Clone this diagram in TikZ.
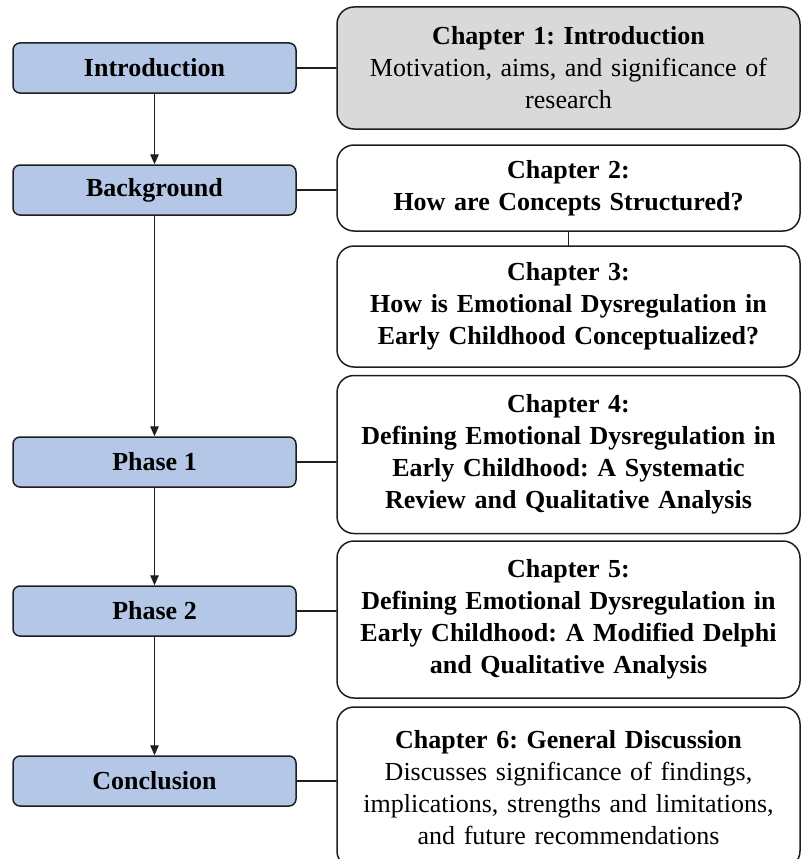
\documentclass[tikz,border=0pt]{standalone}
\usepackage{fontspec}
\setmainfont{Liberation Serif}
\usepackage{xcolor}
\usepackage{tikz}
\usetikzlibrary{arrows.meta,calc}
\definecolor{ColPhase}{RGB}{180,199,231}
\definecolor{ColIntro}{RGB}{217,217,217}
\definecolor{ColEdge}{RGB}{30,30,30}
\frenchspacing

\begin{document}
\begin{tikzpicture}[
  x=1pt, y=-1pt,
  >={Triangle[length=10pt,width=8.5pt]},
  line cap=round,
  line join=round,
  every node/.style={font=\fontsize{26}{32}\selectfont, align=center, inner sep=0pt},
  phasebox/.style={draw=ColEdge, line width=1.5pt, fill=ColPhase, rounded corners=7pt,
    minimum width=283pt, minimum height=50pt, font=\fontsize{26}{32}\selectfont\bfseries},
  chapbox/.style={draw=ColEdge, line width=1.5pt, fill=white, rounded corners=17pt,
    minimum width=463pt, text width=455pt},
  link/.style={draw=ColEdge, line width=1.3pt}
]
  \useasboundingbox (0,0) rectangle (801,859);

  % Phases on the left
  \node[phasebox] (intro)  at (154.5, 68)  {Introduction};
  \node[phasebox] (backgr) at (154.5, 190) {Background};
  \node[phasebox] (phone)  at (154.5, 462) {Phase 1};
  \node[phasebox] (phtwo)  at (154.5, 611) {Phase 2};
  \node[phasebox] (concl)  at (154.5, 781) {Conclusion};

  % Chapters on the right
  \node[chapbox, fill=ColIntro, minimum height=122pt] (chone) at (568.5, 68)
    {\textbf{Chapter 1: Introduction}\\Motivation, aims, and significance of\\research};
  \node[chapbox, minimum height=86pt] (chtwo) at (568.5, 188)
    {\textbf{Chapter 2:}\\\textbf{How are Concepts Structured?}};
  \node[chapbox, minimum height=121pt] (chthree) at (568.5, 306.5)
    {\textbf{Chapter 3:}\\\textbf{How is Emotional Dysregulation in}\\\textbf{Early Childhood Conceptualized?}};
  \node[chapbox, minimum height=158pt] (chfour) at (568.5, 454.5)
    {\textbf{Chapter 4:}\\\textbf{Defining Emotional Dysregulation in}\\\textbf{Early Childhood: A Systematic}\\\textbf{Review and Qualitative Analysis}};
  \node[chapbox, minimum height=157pt] (chfive) at (568.5, 619.5)
    {\textbf{Chapter 5:}\\\textbf{Defining Emotional Dysregulation in}\\\textbf{Early Childhood: A Modified Delphi}\\\textbf{and Qualitative Analysis}};
  \node[chapbox, minimum height=161pt] (chsix) at (568.5, 787.5)
    {\textbf{Chapter 6: General Discussion}\\Discusses significance of findings,\\implications, strengths and limitations,\\and future recommendations};

  % Flow between phases
  \draw[link, ->] (intro)  -- (backgr);
  \draw[link, ->] (backgr) -- (phone);
  \draw[link, ->] (phone)  -- (phtwo);
  \draw[link, ->] (phtwo)  -- (concl);

  % Phase to chapter links
  \foreach \ph/\ch in {intro/chone, backgr/chtwo, phone/chfour, phtwo/chfive, concl/chsix}{
    \draw[link] (\ph.east) -- (\ph.east -| \ch.west);
  }
  \draw[link] (chtwo) -- (chthree);
\end{tikzpicture}
\end{document}
